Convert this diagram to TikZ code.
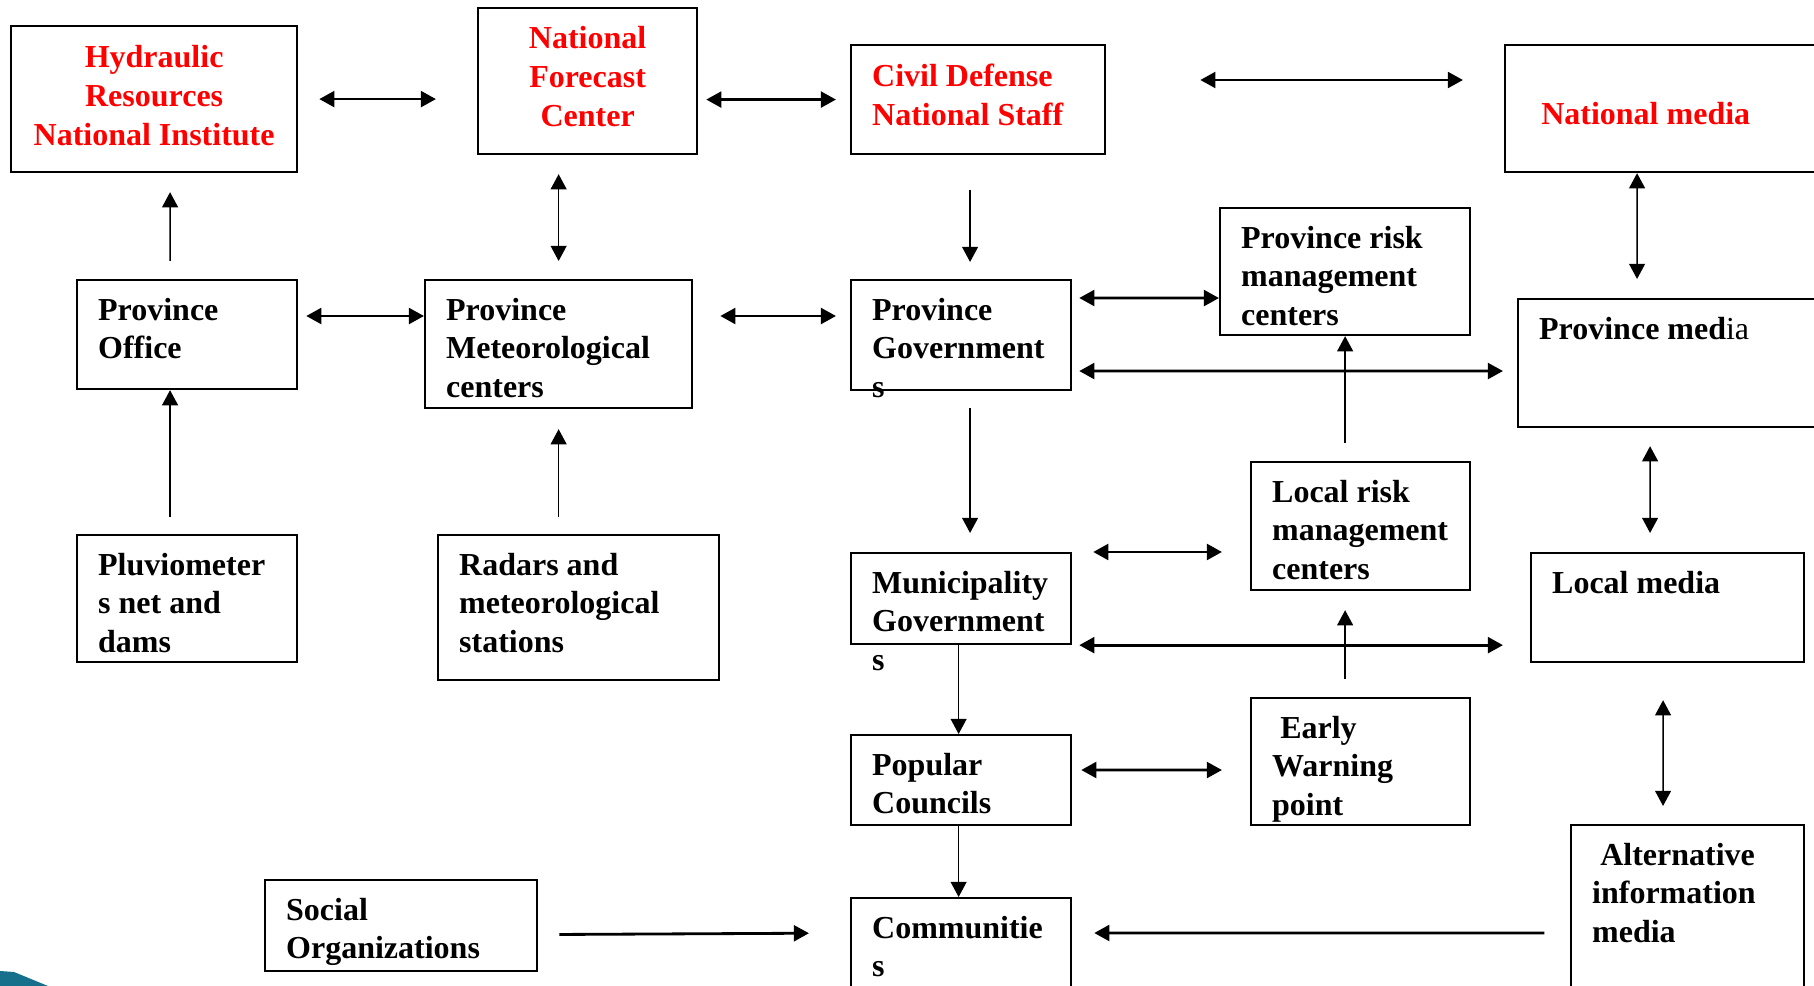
\documentclass[tikz,border=0pt]{standalone}
\usepackage{fontspec}
\setmainfont{Liberation Serif}
\usepackage{xcolor}
\usepackage{tikz}
\usetikzlibrary{shapes,arrows.meta,positioning}

\newcommand{\boxtext}[4][t]{\parbox[t][\dimexpr#3-12pt\relax][#1]{\dimexpr#2-12pt\relax}{\vspace*{-0.9pt}\raggedright#4}}
\definecolor{deco}{RGB}{22,112,140}

\begin{document}
\begin{tikzpicture}[
    x=0.01cm, y=-0.01cm,
    box/.style={rectangle, draw, line width=0.6pt, anchor=north west, inner sep=6pt, font=\fontsize{9.1}{11}\selectfont\bfseries},
    hot/.style={box, text=red},
    arrow/.style={-{Triangle[length=4.3pt,width=4.5pt]}},
    both/.style={{Triangle[length=4.3pt,width=4.5pt]}-{Triangle[length=4.3pt,width=4.5pt]}},
    thin/.style={line width=0.45pt},
    wide/.style={line width=0.8pt}
]
    \useasboundingbox (0,0) rectangle (1814,986);
    \fill[deco] (0,971) -- (14,972) -- (48,986) -- (0,986) -- cycle;

    \node[hot] (hyd) at (10,25) {\boxtext[c]{2.86cm}{1.46cm}{\vspace*{-1.1pt}\centering Hydraulic\\Resources\\National Institute}};
    \node[hot] (nfc) at (477,7) {\boxtext[c]{2.19cm}{1.46cm}{\vspace*{-1.7pt}\centering National\\Forecast\\Center}};
    \node[hot] (cds) at (850,44) {\boxtext[c]{2.54cm}{1.09cm}{\vspace*{-1.7pt}Civil Defense\\National Staff}};
    \node[hot] (nm) at (1504,44) {\boxtext[c]{3.2cm}{1.27cm}{\vspace*{3.5pt}\hspace*{4.3pt}National media}};

    \node[box] (po) at (76,279) {\boxtext{2.2cm}{1.09cm}{Province\\Office}};
    \node[box] (pmc) at (424,279) {\boxtext{2.67cm}{1.28cm}{Province\\Meteorological\\centers}};
    \node[box] (pg) at (850,279) {\boxtext{2.2cm}{1.1cm}{Province\\Government\\s}};
    \node[box] (prm) at (1219,207) {\boxtext{2.5cm}{1.27cm}{Province risk\\management\\centers}};
    \node[box] (pm) at (1517,298) {\boxtext{3.1cm}{1.28cm}{Province med\textmd{ia}}};

    \node[box] (plu) at (76,534) {\boxtext{2.2cm}{1.27cm}{Pluviometer\\s net and\\dams}};
    \node[box] (rad) at (437,534) {\boxtext{2.81cm}{1.45cm}{Radars and\\meteorological\\stations}};
    \node[box] (mg) at (850,552) {\boxtext{2.2cm}{0.91cm}{Municipality\\Government\\s}};
    \node[box] (lrm) at (1250,461) {\boxtext{2.19cm}{1.28cm}{Local risk\\management\\centers}};
    \node[box] (lm) at (1530,552) {\boxtext{2.73cm}{1.09cm}{Local media}};

    \node[box] (pc) at (850,734) {\boxtext{2.2cm}{0.9cm}{Popular\\Councils}};
    \node[box] (ew) at (1250,697) {\boxtext{2.19cm}{1.27cm}{\hspace*{2.3pt}Early\\Warning\\point}};
    \node[box] (alt) at (1570,824) {\boxtext{2.33cm}{2cm}{\hspace*{2.3pt}Alternative\\information\\media}};
    \node[box] (soc) at (264,879) {\boxtext{2.72cm}{0.91cm}{Social\\Organizations}};
    \node[box] (com) at (850,897) {\boxtext{2.2cm}{1.2cm}{Communitie\\s}};

    \draw[both, wide, shorten <=0.21cm, shorten >=0.41cm] (hyd.east) -- (hyd.east -| nfc.west);
    \draw[both, wide, shorten <=0.08cm, shorten >=0.14cm] (cds.west -| nfc.east) -- (cds.west);
    \draw[both, wide, shorten <=0.94cm, shorten >=0.41cm] ([yshift=-0.36cm]cds.north east) -- ([yshift=-0.36cm]nm.north west);
    \draw[both, thin, shorten <=0.19cm, shorten >=0.18cm] (pmc.north |- nfc.south) -- (pmc.north);
    \draw[arrow, thin, shorten <=0.35cm, shorten >=0.17cm] ([xshift=1.2cm]cds.south west) -- ([xshift=1.2cm]pg.north west);
    \draw[both, thin, shorten >=0.19cm] ([xshift=1.33cm]nm.south west) -- ([xshift=1.2cm]pm.north west);

    \draw[arrow, thin, shorten <=0.18cm, shorten >=0.19cm] ([xshift=0.94cm]po.north west) -- ([xshift=1.6cm]hyd.south west);
    \draw[arrow, thin, shorten <=0.17cm] ([xshift=0.94cm]plu.north west) -- ([xshift=0.94cm]po.south west);
    \draw[arrow, thin, shorten <=0.17cm, shorten >=0.2cm] (pmc.south |- rad.north) -- (pmc.south);
    \draw[both, wide, shorten <=0.08cm] ([yshift=-0.37cm]po.north east) -- ([yshift=-0.37cm]pmc.north west);
    \draw[both, wide, shorten <=0.27cm, shorten >=0.14cm] ([yshift=-0.37cm]pmc.north east) -- ([yshift=-0.37cm]pg.north west);
    \draw[both, wide, shorten <=0.07cm] ([yshift=-0.19cm]pg.north east) -- ([yshift=-0.91cm]prm.north west);
    \draw[both, wide, shorten <=0.07cm, shorten >=0.14cm] ([yshift=-0.92cm]pg.north east) -- ([yshift=-0.73cm]pm.north west);
    \draw[arrow, thin, shorten <=0.18cm] (prm.south |- lrm.north) -- (prm.south);

    \draw[arrow, thin, shorten <=0.17cm, shorten >=0.19cm] ([xshift=1.2cm]pg.south west) -- ([xshift=1.2cm]mg.north west);
    \draw[both, thin, shorten <=0.18cm, shorten >=0.19cm] ([xshift=1.33cm]pm.south west) -- ([xshift=1.2cm]lm.north west);
    \draw[both, wide, shorten <=0.21cm, shorten >=0.28cm] (mg.north east) -- (mg.north east -| lrm.west);
    \draw[both, wide, shorten <=0.07cm, shorten >=0.27cm] (mg.south east) -- (mg.south east -| lm.west);
    \draw[arrow, thin, shorten <=0.18cm, shorten >=0.19cm] (prm.south |- ew.north) -- (prm.south |- lrm.south);
    \draw[arrow, thin] ([xshift=-0.025cm]mg.south) -- ([xshift=-0.025cm]pc.north);
    \draw[both, wide, shorten <=0.09cm, shorten >=0.28cm] ([yshift=-0.36cm]pc.north east) -- ([yshift=-0.73cm]ew.north west);
    \draw[both, thin, shorten <=0.37cm, shorten >=0.18cm] ([xshift=1.33cm]lm.south west) -- ([xshift=0.93cm]alt.north west);
    \draw[arrow, thin] ([xshift=-0.025cm]pc.south) -- ([xshift=-0.025cm]com.north);
    \draw[arrow, wide, shorten <=0.21cm, shorten >=0.41cm] ([yshift=-0.09cm]soc.east) -- ([yshift=-0.36cm]com.north west);
    \draw[arrow, wide, shorten <=0.255cm, shorten >=0.22cm] ([yshift=-1.09cm]alt.north west) -- ([yshift=-0.36cm]com.north east);
\end{tikzpicture}
\end{document}
